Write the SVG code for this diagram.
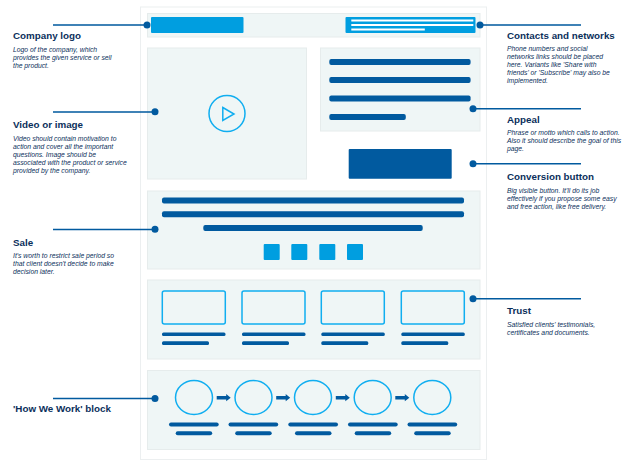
<svg xmlns="http://www.w3.org/2000/svg" width="632" height="461" viewBox="0 0 632 461">
<style>
text{font-family:"Liberation Sans",Arial,sans-serif;fill:#0b2f5b}
.h{font-size:9.8px;font-weight:bold}
.d{font-size:6.8px;font-style:italic}
.p{fill:#eff6f6;stroke:#e6ecec;stroke-width:1}
.b{fill:#015a9f}
.l{fill:#009ee0}
.o{fill:none;stroke:#10aef0;stroke-width:1.5}
.w{fill:#fff}
.c{stroke:#015a9f;stroke-width:1.5;fill:none}
.dot{fill:#015a9f}
</style>
<defs>
<g id="arrow"><path class="b" d="M0 -1.7H9.5V-3.6L14 0L9.5 3.6V1.7H0Z"/></g>
</defs>
<rect id="page" x="140.5" y="7" width="346" height="452.5" fill="#fff" stroke="#eceff0"/>
<g id="header"><rect class="p" x="147.5" y="13.5" width="332.5" height="23.5"/>
<rect class="l" x="151" y="17" width="92.5" height="16" rx="1"/>
<rect class="l" x="345.5" y="17" width="130" height="16" rx="1"/>
<rect class="w" x="351.3" y="19.5" width="122" height="2"/>
<rect class="w" x="351.3" y="24" width="122" height="2"/>
<rect class="w" x="351.3" y="28.5" width="73.5" height="2"/></g>
<g id="video"><rect class="p" x="147.5" y="48" width="159" height="131"/>
<circle class="o" cx="227" cy="113.5" r="18"/>
<path class="o" d="M222.8 107.5L234 114L222.8 120.5Z"/></g>
<g id="appeal"><rect class="p" x="320.5" y="48" width="159.5" height="83"/>
<rect class="b" x="329.3" y="59" width="141.3" height="6" rx="2"/>
<rect class="b" x="329.3" y="77" width="141.3" height="6" rx="2"/>
<rect class="b" x="329.3" y="95.5" width="141.3" height="6" rx="2"/>
<rect class="b" x="329.3" y="114" width="76.5" height="6" rx="2"/></g>
<g id="button"><rect class="b" x="348.7" y="149" width="103" height="29.7" rx="1"/></g>
<g id="sale"><rect class="p" x="147.5" y="191" width="332.5" height="78"/>
<rect class="b" x="162" y="197.5" width="302" height="6" rx="2"/>
<rect class="b" x="162" y="211.3" width="302" height="6" rx="2"/>
<rect class="b" x="203.3" y="225" width="219.4" height="6" rx="2"/>
<rect class="l" x="263.7" y="244" width="16" height="16" rx="1"/>
<rect class="l" x="291.3" y="244" width="16" height="16" rx="1"/>
<rect class="l" x="319.3" y="244" width="16" height="16" rx="1"/>
<rect class="l" x="347" y="244" width="16" height="16" rx="1"/></g>
<g id="trust"><rect class="p" x="147.5" y="280" width="332.5" height="79"/>
<rect class="o" x="162.3" y="291" width="63" height="33" rx="2"/>
<rect class="o" x="242" y="291" width="63" height="33" rx="2"/>
<rect class="o" x="321.3" y="291" width="63" height="33" rx="2"/>
<rect class="o" x="401.3" y="291" width="63" height="33" rx="2"/>
<rect class="b" x="162" y="332.5" width="63.5" height="3.6" rx="1.5"/>
<rect class="b" x="242" y="332.5" width="63.5" height="3.6" rx="1.5"/>
<rect class="b" x="321.3" y="332.5" width="63.5" height="3.6" rx="1.5"/>
<rect class="b" x="401.3" y="332.5" width="63.5" height="3.6" rx="1.5"/>
<rect class="b" x="162" y="341.3" width="47" height="3.6" rx="1.5"/>
<rect class="b" x="242" y="341.3" width="47" height="3.6" rx="1.5"/>
<rect class="b" x="321.3" y="341.3" width="47" height="3.6" rx="1.5"/>
<rect class="b" x="401.3" y="341.3" width="47" height="3.6" rx="1.5"/></g>
<g id="how"><rect class="p" x="147.5" y="370.5" width="332.5" height="79"/>
<ellipse class="o" cx="194" cy="397.5" rx="18.5" ry="17"/>
<ellipse class="o" cx="253.5" cy="397.5" rx="18.5" ry="17"/>
<ellipse class="o" cx="313" cy="397.5" rx="18.5" ry="17"/>
<ellipse class="o" cx="372.7" cy="397.5" rx="18.5" ry="17"/>
<ellipse class="o" cx="432.3" cy="397.5" rx="18.5" ry="17"/>
<use href="#arrow" x="216.7" y="397.7"/><use href="#arrow" x="276.2" y="397.7"/><use href="#arrow" x="335.8" y="397.7"/><use href="#arrow" x="395.3" y="397.7"/>
<rect class="b" x="169" y="422.5" width="49.7" height="4" rx="2"/>
<rect class="b" x="228.5" y="422.5" width="49.7" height="4" rx="2"/>
<rect class="b" x="288.3" y="422.5" width="49.7" height="4" rx="2"/>
<rect class="b" x="348" y="422.5" width="49.7" height="4" rx="2"/>
<rect class="b" x="407.5" y="422.5" width="49.7" height="4" rx="2"/>
<rect class="b" x="175.7" y="431.3" width="36.5" height="4" rx="2"/>
<rect class="b" x="235.2" y="431.3" width="36.5" height="4" rx="2"/>
<rect class="b" x="295" y="431.3" width="36.5" height="4" rx="2"/>
<rect class="b" x="354.7" y="431.3" width="36.5" height="4" rx="2"/>
<rect class="b" x="414.2" y="431.3" width="36.5" height="4" rx="2"/></g>
<g id="connectors">
<path class="c" d="M53 25H147M53 112H155M53 229.5H155M53 398.5H155M480 25H581M473 108.7H581M473 163.7H581M473 298.7H581"/>
<circle class="dot" cx="147" cy="25" r="3.5"/><circle class="dot" cx="155" cy="111.7" r="3.5"/><circle class="dot" cx="155" cy="229.3" r="3.5"/><circle class="dot" cx="155" cy="398.5" r="3.5"/>
<circle class="dot" cx="480" cy="25" r="3.5"/><circle class="dot" cx="473" cy="108.7" r="3.5"/><circle class="dot" cx="473" cy="163.7" r="3.5"/><circle class="dot" cx="473" cy="298.7" r="3.5"/>
</g>
<g id="note-logo"><text class="h" x="13" y="39">Company logo</text>
<text class="d" x="13" y="51.7">Logo of the company, which</text><text class="d" x="13" y="59.7">provides the given service or sell</text><text class="d" x="13" y="67.7">the product.</text></g>
<g id="note-video"><text class="h" x="13" y="128">Video or image</text>
<text class="d" x="13" y="140.5">Video should contain motivation to</text><text class="d" x="13" y="148.5">action and cover all the important</text><text class="d" x="13" y="156.5">questions. Image should be</text><text class="d" x="13" y="164.5">associated with the product or service</text><text class="d" x="13" y="172.5">provided by the company.</text></g>
<g id="note-sale"><text class="h" x="13" y="245.7">Sale</text>
<text class="d" x="13" y="258.3">It's worth to restrict sale period so</text><text class="d" x="13" y="266.3">that client doesn't decide to make</text><text class="d" x="13" y="274.3">decision later.</text></g>
<g id="note-how"><text class="h" x="13" y="412">'How We Work' block</text></g>
<g id="note-contacts"><text class="h" x="507" y="39">Contacts and networks</text>
<text class="d" x="507" y="51">Phone numbers and social</text><text class="d" x="507" y="59">networks links should be placed</text><text class="d" x="507" y="67">here. Variants like 'Share with</text><text class="d" x="507" y="75">friends' or 'Subscribe' may also be</text><text class="d" x="507" y="83">implemented.</text></g>
<g id="note-appeal"><text class="h" x="507" y="122.5">Appeal</text>
<text class="d" x="507" y="134.7">Phrase or motto which calls to action.</text><text class="d" x="507" y="142.7">Also it should describe the goal of this</text><text class="d" x="507" y="150.7">page.</text></g>
<g id="note-conversion"><text class="h" x="507" y="180.3">Conversion button</text>
<text class="d" x="507" y="193">Big visible button. It'll do its job</text><text class="d" x="507" y="201">effectively if you propose some easy</text><text class="d" x="507" y="209">and free action, like free delivery.</text></g>
<g id="note-trust"><text class="h" x="507" y="314">Trust</text>
<text class="d" x="507" y="326.7">Satisfied clients' testimonials,</text><text class="d" x="507" y="334.7">certificates and documents.</text></g>
</svg>
